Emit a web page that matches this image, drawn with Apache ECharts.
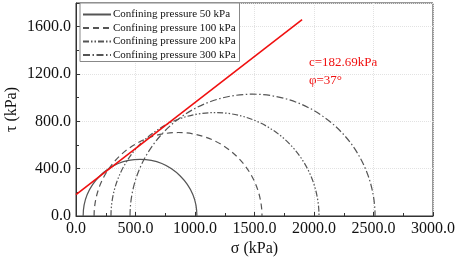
<!DOCTYPE html>
<html>
<head>
<meta charset="utf-8">
<script src="https://cdn.jsdelivr.net/npm/echarts@6/dist/echarts.min.js"></script>
<style>
  html, body { margin: 0; padding: 0; background: #fff; }
  #chart { width: 457px; height: 263px; }
</style>
</head>
<body>
<div id="chart"></div>
<script>
// Mohr circles: [sigma3, sigma1] in kPa
const circleNames = ['Confining pressure 50 kPa', 'Confining pressure 100 kPa', 'Confining pressure 200 kPa', 'Confining pressure 300 kPa'];
const circleSigma3 = [60, 152, 294, 454];
const circleSigma1 = [1016, 1563, 2042, 2513];
const circleDash = ['solid', [6, 4], [6, 2, 1.5, 2, 1.5, 2], [7, 2.5, 1.5, 2.5]];

// strength envelope, end points
const envelopeSigma = [0, 1900];
const envelopeTau = [180, 1660];

const xTicks = [0, 500, 1000, 1500, 2000, 2500, 3000];
const yTicks = [0, 400, 800, 1200, 1600];

const font = '"Liberation Serif", "Times New Roman", serif';
const grey = '#555';

const chart = echarts.init(document.getElementById('chart'));

const series = [];
// empty line series only to give the legend proper line icons
circleNames.forEach((name, i) => {
    series.push({
        name: name,
        type: 'line',
        data: [],
        symbol: 'none',
        itemStyle: { color: grey },
        lineStyle: { color: grey, width: 1.2, type: circleDash[i] }
    });
});
circleNames.forEach((name, i) => {
    series.push({
        name: name,
        type: 'custom',
        data: [[circleSigma3[i], circleSigma1[i]]],
        renderItem: (params, api) => {
            const s3 = api.value(0);
            const s1 = api.value(1);
            const r = (s1 - s3) / 2;
            const c = api.coord([(s1 + s3) / 2, 0]);
            const rx = api.size([r, 0])[0];
            const ry = api.size([0, r])[1];
            return {
                type: 'path',
                shape: {
                    pathData: 'M' + (c[0] - rx) + ' ' + c[1] + ' A' + rx + ' ' + ry + ' 0 0 1 ' + (c[0] + rx) + ' ' + c[1],
                    layout: 'cover',
                    x: c[0] - rx, y: c[1] - ry, width: 2 * rx, height: ry
                },
                style: { fill: 'none', stroke: grey, lineWidth: 1.2, lineDash: circleDash[i] === 'solid' ? null : circleDash[i] }
            };
        },
        z: 3
    });
});
series.push({
    name: 'envelope',
    type: 'line',
    data: envelopeSigma.map((s, i) => [s, envelopeTau[i]]),
    symbol: 'none',
    lineStyle: { color: '#f01010', width: 1.6 },
    z: 4
});

chart.setOption({
    animation: false,
    textStyle: { fontFamily: font },
    grid: { left: 76, right: 24, top: 3, bottom: 47, show: true, borderColor: '#333', borderWidth: 1, outerBoundsMode: 'none' },
    legend: {
        data: circleNames,
        orient: 'vertical',
        left: 80, top: 3,
        itemWidth: 28, itemHeight: 10, itemGap: 0.5,
        padding: [5, 4, 0, 2],
        borderColor: '#888', borderWidth: 1,
        backgroundColor: '#fff',
        itemStyle: { opacity: 0 },
        textStyle: { fontFamily: font, fontSize: 11, lineHeight: 13, color: '#111', padding: [0, 0, 0, -3] }
    },
    xAxis: {
        type: 'value', min: 0, max: 3000, interval: 500,
        name: 'σ (kPa)', nameLocation: 'middle', nameGap: 25, nameMoveOverlap: false,
        nameTextStyle: { fontFamily: font, fontSize: 16, color: '#111' },
        axisLine: { lineStyle: { color: '#333' } },
        axisTick: { inside: true, length: 4, lineStyle: { color: '#333' } },
        minorTick: { show: true, splitNumber: 2, length: 3, lineStyle: { color: '#333' } },
        axisLabel: { fontFamily: font, fontSize: 16, color: '#111', margin: 5,
            formatter: v => xTicks.indexOf(v) >= 0 ? v.toFixed(1) : '' },
        splitLine: { lineStyle: { color: '#e2e2e2', type: 'dotted' } }
    },
    yAxis: {
        type: 'value', min: 0, max: 1800, interval: 400,
        name: 'τ (kPa)', nameLocation: 'middle', nameGap: 56, nameMoveOverlap: false,
        nameTextStyle: { fontFamily: font, fontSize: 16, color: '#111' },
        axisLine: { lineStyle: { color: '#333' } },
        axisTick: { inside: true, length: 4, lineStyle: { color: '#333' } },
        minorTick: { show: true, splitNumber: 2, length: 3, lineStyle: { color: '#333' } },
        axisLabel: { fontFamily: font, fontSize: 16, color: '#111', margin: 5,
            formatter: v => yTicks.indexOf(v) >= 0 ? v.toFixed(1) : '' },
        splitLine: { lineStyle: { color: '#e2e2e2', type: 'dotted' } }
    },
    graphic: [
        { type: 'text', left: 309, top: 56, style: { text: 'c=182.69kPa', fill: '#f01010', font: '13px ' + font } },
        { type: 'text', left: 309, top: 74, style: { text: 'φ=37°', fill: '#f01010', font: '13px ' + font } }
    ],
    series: series
});
</script>
</body>
</html>
